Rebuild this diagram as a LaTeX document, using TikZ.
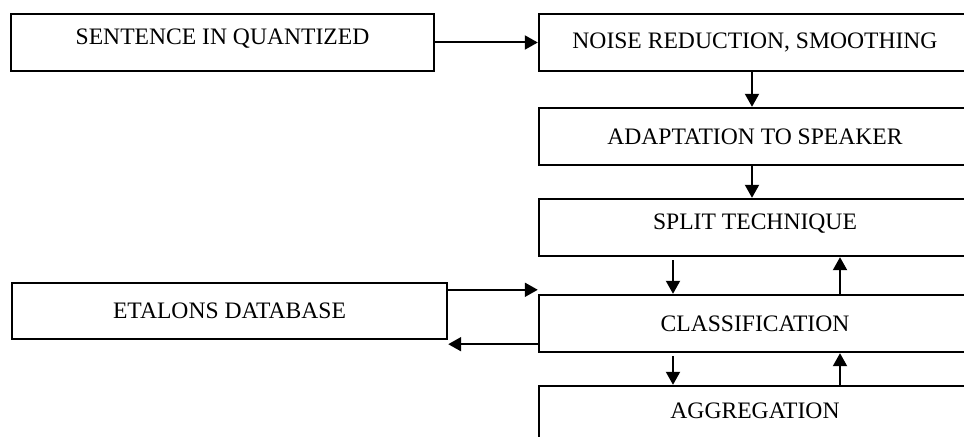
\documentclass[tikz,border=0pt]{standalone}
\usepackage{fontspec}
\setmainfont{Liberation Serif}
\usetikzlibrary{arrows.meta,positioning}
\tikzset{
	stagebox/.style={
		draw,
		line width=1.2pt,
		rectangle,
		minimum width=216pt,
		minimum height=28.5pt,
		inner sep=0pt,
		font=\fontsize{11.8}{14}\selectfont
	},
	conn/.style={
		-{Triangle[length=6.5pt,width=7pt]},
		line width=1pt
	}
}
\begin{document}
\begin{tikzpicture}[x=0.5pt,y=-0.5pt]
	\useasboundingbox (0,0) rectangle (964,437);
	
	% Nodes
	\node[stagebox,minimum width=211.5pt] (sent) at (222.5,42.5) {};
	\node at (222.5,39) {\fontsize{11.8}{14}\selectfont SENTENCE IN QUANTIZED};
	
	\node[stagebox] (noise) at (755,42.5) {NOISE REDUCTION, SMOOTHING};
	\node[stagebox] (adapt) at (755,136.5) {ADAPTATION TO SPEAKER};
	\node[stagebox] (split) at (755,227.5) {};
	\node at (755,224) {\fontsize{11.8}{14}\selectfont SPLIT TECHNIQUE};
	\node[stagebox] (classif) at (755,323.5) {CLASSIFICATION};
	\node[stagebox] (aggr) at (755,414.5) {};
	\node at (755,411) {\fontsize{11.8}{14}\selectfont AGGREGATION};
	
	\node[stagebox,minimum width=217.5pt,minimum height=28pt] (etal) at (229.5,311) {ETALONS DATABASE};
	
	% Connections
	\draw[conn] (sent) -- (noise);
	\draw[conn] ([xshift=-1.5pt]noise.south) -- ([xshift=-1.5pt]adapt.north);
	\draw[conn] ([xshift=-1.5pt]adapt.south) -- ([xshift=-1.5pt]split.north);
	
	\draw[conn] ([xshift=-41pt,yshift=-1.5pt]split.south) -- ([xshift=-41pt]classif.north);
	\draw[conn] ([xshift=42.5pt]classif.north) -- ([xshift=42.5pt]split.south);
	\draw[conn] ([xshift=-41pt,yshift=-1.5pt]classif.south) -- ([xshift=-41pt]aggr.north);
	\draw[conn] ([xshift=42.5pt]aggr.north) -- ([xshift=42.5pt]classif.south);
	
	\draw[conn] ([yshift=-4pt]etal.north east) -- ([yshift=-4pt]etal.north east -| classif.west);
	\draw[conn] ([yshift=4.5pt]classif.south west) -- ([yshift=4.5pt]classif.south west -| etal.east);
	
\end{tikzpicture}
\end{document}
